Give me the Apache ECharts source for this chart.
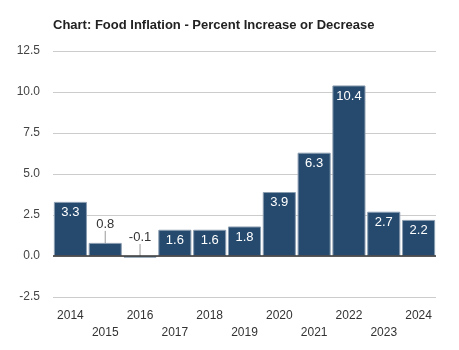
<!DOCTYPE html>
<html><head><meta charset="utf-8">
<script src="https://cdn.jsdelivr.net/npm/echarts@6/dist/echarts.min.js"></script>
<style>html,body{margin:0;padding:0;background:#fff}#c{width:459px;height:350px}</style>
</head><body><div id="c"></div>
<script>
const years = ['2014','2015','2016','2017','2018','2019','2020','2021','2022','2023','2024'];
const values = [3.3, 0.8, -0.1, 1.6, 1.6, 1.8, 3.9, 6.3, 10.4, 2.7, 2.2];
const outsideLabelIdx = [1, 2];
const yTicks = {min: -2.5, max: 12.5, interval: 2.5};

const chart = echarts.init(document.getElementById('c'), null, {renderer: 'canvas'});
const data = values.map((v, i) => {
  if (outsideLabelIdx.includes(i)) {
    return {value: v, label: {position: 'top', color: '#333', distance: 2}};
  }
  return v;
});
chart.setOption({
  animation: false,
  title: {
    text: 'Chart: Food Inflation - Percent Increase or Decrease',
    left: 48, top: 14,
    textStyle: {fontFamily: 'Liberation Sans, Arial, sans-serif', fontSize: 13, fontWeight: 'bold', color: '#222'}
  },
  grid: {left: 53, right: 23, top: 51, bottom: 53},
  xAxis: {
    type: 'category', data: years,
    axisLine: {show: false}, axisTick: {show: false},
    axisLabel: {
      interval: 0, margin: 10, color: '#333', fontSize: 12, lineHeight: 17,
      fontFamily: 'Liberation Sans, Arial, sans-serif',
      formatter: (v, i) => (i % 2 === 1 ? '\n' + v : v)
    }
  },
  yAxis: {
    type: 'value', min: yTicks.min, max: yTicks.max, interval: yTicks.interval,
    axisLine: {show: false}, axisTick: {show: false},
    axisLabel: {color: '#444', fontSize: 12, margin: 13, fontFamily: 'Liberation Sans, Arial, sans-serif',
      formatter: v => v.toFixed(1)},
    splitLine: {lineStyle: {color: '#cccccc', width: 1}}
  },
  series: [{
    type: 'bar', data: data, barCategoryGap: '5%',
    itemStyle: {color: '#264a6e', borderColor: '#8a9db0', borderWidth: 1},
    label: {
      show: true, position: 'insideTop', distance: 4, color: '#fff', fontSize: 13,
      fontFamily: 'Liberation Sans, Arial, sans-serif',
      formatter: p => p.value.toFixed(1)
    },
    labelLayout: p => (outsideLabelIdx.includes(p.dataIndex) ? {dy: -10} : {}),
    labelLine: {show: true, lineStyle: {color: '#999', width: 1}},
    markLine: {
      silent: true, symbol: 'none', label: {show: false},
      lineStyle: {color: '#333', width: 1.5, type: 'solid'},
      data: [{yAxis: 0}]
    }
  }]
});
</script></body></html>
